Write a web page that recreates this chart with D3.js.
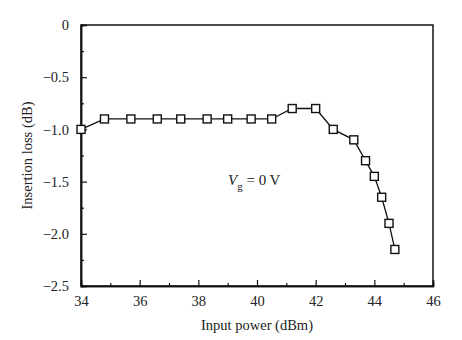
<!DOCTYPE html>
<html>
<head>
<meta charset="utf-8">
<script src="https://cdn.jsdelivr.net/npm/d3@7/dist/d3.min.js"></script>
<style>
  html, body { margin: 0; padding: 0; background: #fff; }
  svg text { font-family: "Liberation Serif", "Times New Roman", serif; fill: #222; }
</style>
</head>
<body>
<svg id="chart" width="462" height="340"></svg>
<script>
// Input power (dBm) and measured insertion loss (dB)
const inputPower = [34.0, 34.8, 35.7, 36.6, 37.4, 38.3, 39.0, 39.8, 40.5, 41.2, 42.0, 42.6, 43.3, 43.7, 44.0, 44.25, 44.5, 44.7];
const insertionLoss = [-1.0, -0.9, -0.9, -0.9, -0.9, -0.9, -0.9, -0.9, -0.9, -0.8, -0.8, -1.0, -1.1, -1.3, -1.45, -1.65, -1.9, -2.15];
const xTicks = [34, 36, 38, 40, 42, 44, 46];
const xMinorTicks = [35, 37, 39, 41, 43, 45];
const yTicks = [0, -0.5, -1.0, -1.5, -2.0, -2.5];
const yMinorTicks = [-0.25, -0.75, -1.25, -1.75, -2.25];

const svg = d3.select("#chart");
const m = { left: 81, right: 29, top: 25, bottom: 54 };
const W = 462, H = 340;

const x = d3.scaleLinear().domain([34, 46]).range([m.left, W - m.right]);
const y = d3.scaleLinear().domain([-2.5, 0]).range([H - m.bottom, m.top]);

// frame
svg.append("rect")
  .attr("x", x(34)).attr("y", y(0))
  .attr("width", x(46) - x(34)).attr("height", y(-2.5) - y(0))
  .attr("fill", "none").attr("stroke", "#111").attr("stroke-width", 1.5);

// x axis (ticks pointing inward)
svg.append("g").attr("transform", `translate(0,${y(-2.5)})`)
  .call(d3.axisBottom(x).tickValues(xTicks).tickSize(-6).tickPadding(10).tickFormat(d3.format("d")));
svg.append("g").attr("transform", `translate(0,${y(-2.5)})`)
  .call(d3.axisBottom(x).tickValues(xMinorTicks).tickSize(-3).tickFormat(""));

// y axis (ticks pointing inward)
const fmtY = d => d === 0 ? "0" : d3.format(".1f")(d).replace("-", "\u2212");
svg.append("g").attr("transform", `translate(${x(34)},0)`)
  .call(d3.axisLeft(y).tickValues(yTicks).tickSize(-6).tickPadding(12).tickFormat(fmtY));
svg.append("g").attr("transform", `translate(${x(34)},0)`)
  .call(d3.axisLeft(y).tickValues(yMinorTicks).tickSize(-3).tickFormat(""));

svg.selectAll(".domain").attr("stroke", "#111").attr("stroke-width", 1.5);
svg.selectAll(".tick line").attr("stroke", "#111").attr("stroke-width", 1.2);
svg.selectAll(".tick text").style("font-size", "14.5px").attr("fill", "#222");

// axis titles
svg.append("text")
  .attr("x", (x(34) + x(46)) / 2).attr("y", 330)
  .attr("text-anchor", "middle").style("font-size", "14.5px")
  .text("Input power (dBm)");
svg.append("text")
  .attr("transform", `translate(32,${(y(0) + y(-2.5)) / 2}) rotate(-90)`)
  .attr("text-anchor", "middle").style("font-size", "14.5px")
  .text("Insertion loss (dB)");

// data line and square markers
const data = inputPower.map((p, i) => ({ p, l: insertionLoss[i] }));
svg.append("path")
  .datum(data)
  .attr("fill", "none").attr("stroke", "#111").attr("stroke-width", 1.3)
  .attr("d", d3.line().x(d => x(d.p)).y(d => y(d.l)));
const s = 8;
svg.selectAll("rect.pt").data(data).enter().append("rect")
  .attr("class", "pt")
  .attr("x", d => x(d.p) - s / 2).attr("y", d => y(d.l) - s / 2)
  .attr("width", s).attr("height", s)
  .attr("fill", "#fff").attr("stroke", "#111").attr("stroke-width", 1.4);

// annotation
const ann = svg.append("text").attr("x", 228).attr("y", 185).style("font-size", "15px");
ann.append("tspan").style("font-style", "italic").text("V");
ann.append("tspan").attr("dy", 5).style("font-size", "11px").text("g");
ann.append("tspan").attr("dy", -5).text(" = 0 V");
</script>
</body>
</html>
